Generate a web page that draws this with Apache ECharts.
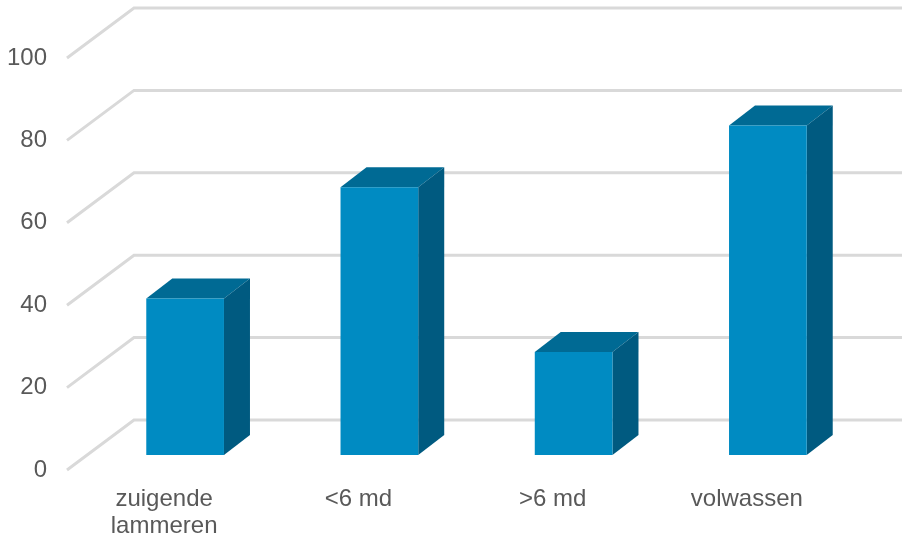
<!DOCTYPE html>
<html>
<head>
<meta charset="utf-8">
<style>html,body{margin:0;padding:0;background:#fff}#chart{width:902px;height:538px}</style>
<script src="https://cdn.jsdelivr.net/npm/echarts@6/dist/echarts.min.js"></script>
</head>
<body>
<div id="chart"></div>
<script>
const categories = ['zuigende\nlammeren', '<6 md', '>6 md', 'volwassen'];
const values = [38, 65, 25, 80];
const gridTicks = [0, 20, 40, 60, 80, 100];

// Depth of the pseudo-3D box, in pixels
const WALL_DX = 67, WALL_DY = 50;
const BAR_DX = 21, BAR_DY = 15;
const BAR_DEPTH_X = 26, BAR_DEPTH_Y = 20;
const WALL_END = 910;

const chart = echarts.init(document.getElementById('chart'), null, { renderer: 'canvas' });

function poly(points, fill) {
  return { type: 'polygon', shape: { points }, style: { fill } };
}

chart.setOption({
  animation: false,
  backgroundColor: '#ffffff',
  grid: { left: 67, top: 58, width: 777, height: 412, outerBoundsMode: 'none' },
  xAxis: {
    type: 'category',
    data: categories,
    axisLine: { show: false },
    axisTick: { show: false },
    axisLabel: {
      color: '#595959', fontFamily: 'Liberation Sans', fontSize: 24,
      lineHeight: 27, margin: 16, interval: 0
    }
  },
  yAxis: {
    type: 'value', min: 0, max: 100, interval: 20,
    axisLine: { show: false },
    axisTick: { show: false },
    splitLine: { show: false },
    axisLabel: {
      color: '#595959', fontFamily: 'Liberation Sans', fontSize: 24, margin: 20,
      padding: [6, 0, 0, 0]
    }
  },
  series: [
    {
      // Side wall and back wall gridlines
      type: 'custom',
      coordinateSystem: 'cartesian2d',
      silent: true,
      clip: false,
      z: 1,
      data: gridTicks.map(t => [0, t]),
      renderItem(params, api) {
        const y = api.coord([0, api.value(1)])[1];
        const x0 = params.coordSys.x;
        return {
          type: 'polyline',
          shape: { points: [[x0, y], [x0 + WALL_DX, y - WALL_DY], [WALL_END, y - WALL_DY]] },
          style: { fill: null, stroke: '#d9d9d9', lineWidth: 3 }
        };
      }
    },
    {
      // Each bar is three faces: front, top and right side
      type: 'custom',
      coordinateSystem: 'cartesian2d',
      silent: true,
      clip: false,
      z: 2,
      data: values.map((v, i) => [i, v]),
      encode: { x: 0, y: 1 },
      renderItem(params, api) {
        const top = api.coord([api.value(0), api.value(1)]);
        const base = api.coord([api.value(0), 0]);
        const w = api.size([1, 0])[0] * 0.4;
        const l = top[0] + BAR_DX - w / 2, r = l + w;
        const t = top[1] - BAR_DY, b = base[1] - BAR_DY;
        const dx = BAR_DEPTH_X, dy = BAR_DEPTH_Y;
        return {
          type: 'group',
          children: [
            poly([[l, t], [r, t], [r + dx, t - dy], [l + dx, t - dy]], '#006a94'),
            poly([[r, t], [r + dx, t - dy], [r + dx, b - dy], [r, b]], '#005a80'),
            poly([[l, t], [r, t], [r, b], [l, b]], '#008bc2')
          ]
        };
      }
    }
  ]
});
</script>
</body>
</html>
